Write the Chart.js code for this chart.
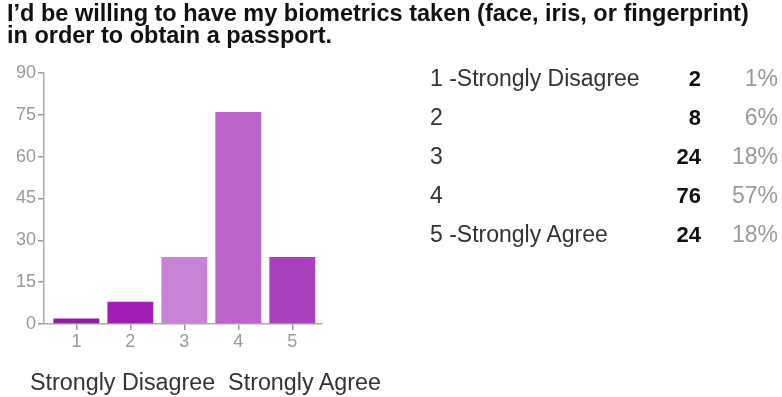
<!DOCTYPE html>
<html>
<head>
<meta charset="utf-8">
<script src="https://cdn.jsdelivr.net/npm/chart.js@4.4.1/dist/chart.umd.min.js"></script>
<style>
  html, body { margin:0; padding:0; background:#fff; width:782px; height:397px; overflow:hidden; }
  body { position:relative; font-family: Arial, "Liberation Sans", sans-serif; }
  #c { position:absolute; left:0; top:0; }
  .title { position:absolute; left:7px; top:2px; font-weight:bold; font-size:23.5px; line-height:22px; color:#111; white-space:nowrap; }
  .caption { position:absolute; left:30px; top:369px; font-size:23.3px; color:#333; white-space:nowrap; }
  .row { position:absolute; font-size:23px; white-space:nowrap; }
  .lbl { color:#333; left:430px; }
  .cnt { color:#111; font-weight:bold; font-size:22px; text-align:right; width:60px; left:641px; }
  .pct { color:#999; text-align:right; width:70px; left:708px; }
</style>
</head>
<body>
<canvas id="c" width="782" height="397"></canvas>
<div class="title">I’d be willing to have my biometrics taken (face, iris, or fingerprint)<br>in order to obtain a passport.</div>
<div class="caption">Strongly Disagree&nbsp; Strongly Agree</div>
<div id="table"></div>
<script>
const categories = ['1', '2', '3', '4', '5'];
const counts = [2, 8, 24, 76, 24];
const rowLabels = ['1 -Strongly Disagree', '2', '3', '4', '5 -Strongly Agree'];
const percents = ['1%', '6%', '18%', '57%', '18%'];
const yTicks = [0, 15, 30, 45, 60, 75, 90];
const barColors = ['#8e1f9f', '#a11db4', '#c883d6', '#bb62cb', '#aa3fbf'];

// table
const table = document.getElementById('table');
rowLabels.forEach((lab, i) => {
  const top = 65 + i * 39;
  const a = document.createElement('div'); a.className = 'row lbl'; a.style.top = top + 'px'; a.textContent = lab; table.appendChild(a);
  const b = document.createElement('div'); b.className = 'row cnt'; b.style.top = (top + 1) + 'px'; b.textContent = counts[i]; table.appendChild(b);
  const c = document.createElement('div'); c.className = 'row pct'; c.style.top = top + 'px'; c.textContent = percents[i]; table.appendChild(c);
});

const points = categories.map((c, i) => ({ x: i + 1, y: counts[i] }));

new Chart(document.getElementById('c'), {
  type: 'bar',
  data: {
    datasets: [{
      data: points,
      backgroundColor: barColors,
      borderWidth: 0,
      categoryPercentage: 1,
      barPercentage: 0.85
    }]
  },
  options: {
    responsive: false,
    animation: false,
    layout: { padding: { left: 0, top: 73, right: 460, bottom: 43 } },
    plugins: { legend: { display: false }, tooltip: { enabled: false }, title: { display: false } },
    scales: {
      x: {
        type: 'linear',
        min: 0.4, max: 5.55,
        offset: false,
        afterFit: (s) => { s.height = 30; },
        afterBuildTicks: (s) => { s.ticks = categories.map((c, i) => ({ value: i + 1 })); },
        grid: { display: true, offset: false, drawOnChartArea: false, drawTicks: true, tickLength: 6,
                color: '#999', lineWidth: 1.5, tickColor: '#999', tickWidth: 1.5 },
        border: { display: true, color: '#aaa', width: 1.5 },
        ticks: { color: '#999', font: { family: 'Arial', size: 18 }, padding: 1,
                 callback: (v) => categories[v - 1] }
      },
      y: {
        min: 0, max: 90,
        afterFit: (s) => { s.width = 44; },
        afterBuildTicks: (s) => { s.ticks = yTicks.map(v => ({ value: v })); },
        grid: { display: true, drawOnChartArea: false, drawTicks: true, tickLength: 6, color: '#999', lineWidth: 1.5 },
        border: { display: true, color: '#aaa', width: 1.5 },
        ticks: { color: '#999', font: { family: 'Arial', size: 18 }, padding: 2 }
      }
    }
  }
});
</script>
</body>
</html>
